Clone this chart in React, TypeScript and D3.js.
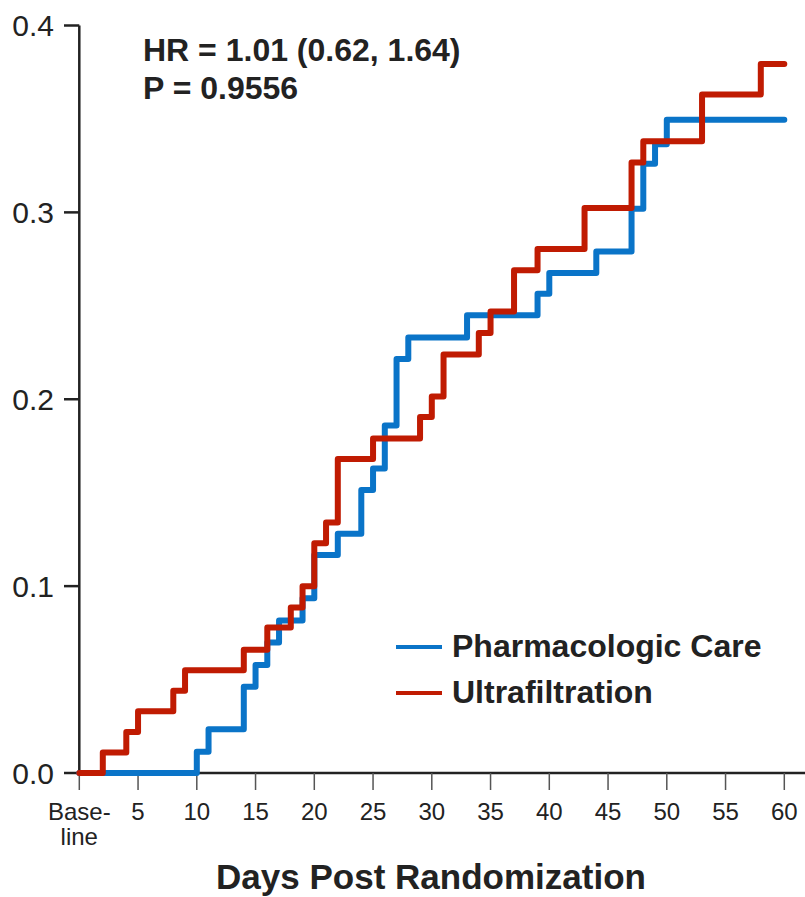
import React from "react";
import * as d3 from "d3";

// step times (days) and cumulative incidence
const pharmDays = [0, 10, 11, 14, 15, 16, 17, 19, 20, 22, 24, 25, 26, 27, 28, 33, 39, 40, 44, 47, 48, 49, 50, 60];
const pharmVals = [0, 0.0114, 0.0234, 0.0462, 0.0578, 0.0698, 0.0816, 0.0935, 0.1167, 0.128, 0.1515, 0.163, 0.186, 0.2215, 0.233, 0.245, 0.2565, 0.2675, 0.279, 0.302, 0.326, 0.3365, 0.3496, 0.3496];

const ufDays = [0, 2, 4, 5, 8, 9, 14, 16, 18, 19, 20, 21, 22, 25, 29, 30, 31, 34, 35, 37, 39, 43, 47, 48, 53, 58, 60];
const ufVals = [0, 0.011, 0.022, 0.033, 0.044, 0.055, 0.066, 0.0778, 0.0885, 0.1, 0.123, 0.134, 0.168, 0.179, 0.1905, 0.2015, 0.224, 0.2354, 0.247, 0.269, 0.2804, 0.3024, 0.3267, 0.338, 0.3631, 0.3794, 0.3794];

const xTicks = [0, 5, 10, 15, 20, 25, 30, 35, 40, 45, 50, 55, 60];
const yTicks = [0, 0.1, 0.2, 0.3, 0.4];

const series = [
  { name: "Pharmacologic Care", color: "#0a74c8", days: pharmDays, vals: pharmVals },
  { name: "Ultrafiltration", color: "#c01b02", days: ufDays, vals: ufVals },
];

const W = 805;
const H = 897;
const font = "Liberation Sans, Arial, Helvetica, sans-serif";

export default function App() {
  const x = d3.scaleLinear().domain([0, 60]).range([79.3, 784.3]);
  const y = d3.scaleLinear().domain([0, 0.4]).range([773, 25.5]);

  const line = d3
    .line<[number, number]>()
    .x((d) => x(d[0]))
    .y((d) => y(d[1]))
    .curve(d3.curveStepAfter);

  const x0 = x(0);
  const yBase = y(0);

  return (
    <svg width={W} height={H} style={{ position: "absolute", left: 0, top: 0, background: "#fff" }} fontFamily={font}>
      {/* axes */}
      <line x1={x0} x2={x0} y1={y(0.4)} y2={yBase} stroke="#222" strokeWidth={2.5} />
      <line x1={x0} x2={W} y1={yBase} y2={yBase} stroke="#222" strokeWidth={2.5} />

      {yTicks.map((t) => (
        <g key={t}>
          <line x1={64} x2={x0} y1={y(t)} y2={y(t)} stroke="#222" strokeWidth={2.5} />
          <text x={54} y={y(t)} dy="0.36em" textAnchor="end" fontSize={30} fill="#222">
            {t.toFixed(1)}
          </text>
        </g>
      ))}

      {xTicks.map((t) => (
        <g key={t}>
          <line x1={x(t)} x2={x(t)} y1={yBase} y2={790} stroke="#555" strokeWidth={1.5} />
          {t === 0 ? (
            <text x={x(t)} y={820} textAnchor="middle" fontSize={24} fill="#222">
              <tspan x={x(t)}>Base-</tspan>
              <tspan x={x(t)} dy={25}>line</tspan>
            </text>
          ) : (
            <text x={x(t)} y={820} textAnchor="middle" fontSize={24} fill="#222">
              {t}
            </text>
          )}
        </g>
      ))}

      {/* curves */}
      {series.map((s) => (
        <path
          key={s.name}
          d={line(s.days.map((d, i) => [d, s.vals[i]] as [number, number])) || ""}
          fill="none"
          stroke={s.color}
          strokeWidth={6}
          strokeLinejoin="round"
          strokeLinecap="round"
        />
      ))}

      {/* annotation */}
      <text x={143} y={61} fontSize={32} fontWeight="bold" fill="#222">
        HR = 1.01 (0.62, 1.64)
      </text>
      <text x={143} y={99} fontSize={32} fontWeight="bold" fill="#222">
        P = 0.9556
      </text>

      {/* legend */}
      {series.map((s, i) => (
        <g key={s.name} transform={`translate(0, ${i * 46})`}>
          <line x1={396} x2={442} y1={647} y2={647} stroke={s.color} strokeWidth={4} />
          <text x={452} y={657} fontSize={32} fontWeight="bold" fill="#222">
            {s.name}
          </text>
        </g>
      ))}

      <text x={431} y={889} textAnchor="middle" fontSize={35} fontWeight="bold" fill="#222">
        Days Post Randomization
      </text>
    </svg>
  );
}
